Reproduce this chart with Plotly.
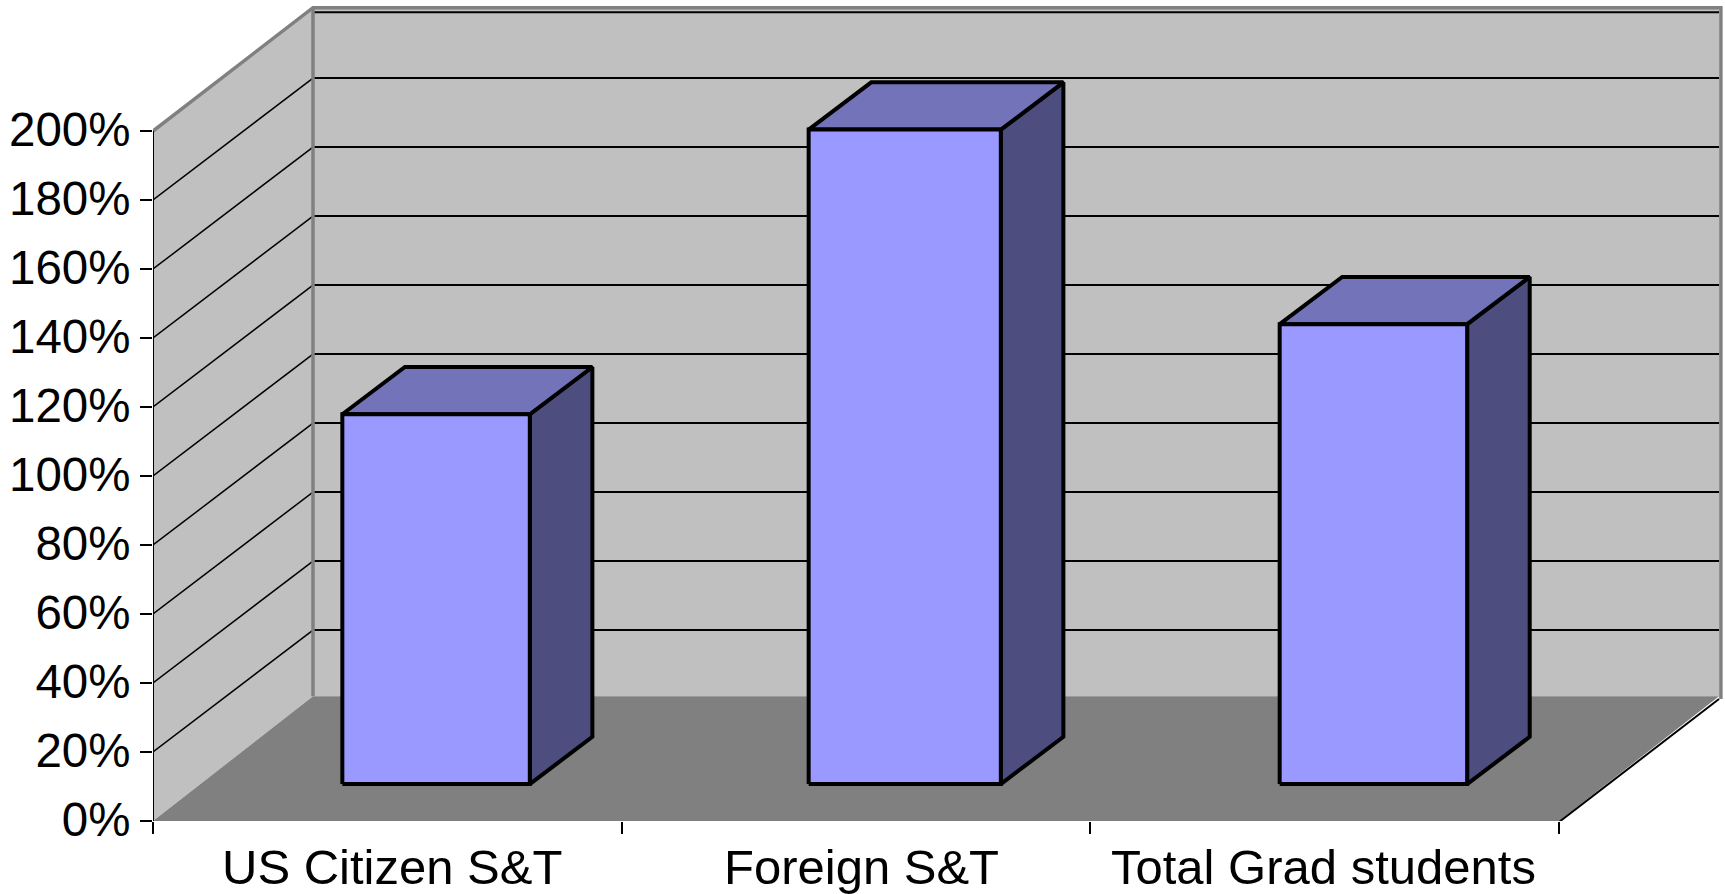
import plotly.graph_objects as go

# Chart data
categories = ["US Citizen S&T", "Foreign S&T", "Total Grad students"]
values = [107.2, 189.7, 133.3]
y_ticks = [0, 20, 40, 60, 80, 100, 120, 140, 160, 180, 200]
y_tick_labels = ["0%", "20%", "40%", "60%", "80%", "100%", "120%", "140%", "160%", "180%", "200%"]

# Oblique projection, in axis units
WALL_DX, WALL_DY = 0.3414, 35.35
FLOOR_DY = 36.15
BAR_SHIFT_DX, BAR_SHIFT_DY = 0.104, 10.7
BAR_DX, BAR_DY = 0.1335, 13.7
BAR_WIDTHS = [0.4, 0.41, 0.4]
SLOTS = len(categories)
Y_MAX = 200

WALL = "#C0C0C0"
FLOOR = "#808080"
EDGE = "#808080"
FRONT = "#9999FF"
TOP = "#7373BA"
SIDE = "#4D4D7F"
BLACK = "#000000"

fig = go.Figure()


def poly(xs, ys, fill, line_color=None, line_width=0):
    fig.add_trace(go.Scatter(
        x=xs + xs[:1], y=ys + ys[:1], mode="lines", fill="toself", fillcolor=fill,
        line=dict(color=line_color or fill, width=line_width, shape="linear"),
        hoverinfo="skip", showlegend=False, cliponaxis=False,
    ))


def seg(xs, ys, color=BLACK, width=2.0):
    fig.add_trace(go.Scatter(
        x=xs, y=ys, mode="lines", line=dict(color=color, width=width),
        hoverinfo="skip", showlegend=False, cliponaxis=False,
    ))


# Walls and floor
poly([WALL_DX, SLOTS + WALL_DX, SLOTS + WALL_DX, WALL_DX],
     [FLOOR_DY, FLOOR_DY, Y_MAX + WALL_DY, Y_MAX + WALL_DY], WALL)
poly([0, WALL_DX, WALL_DX, 0], [0, FLOOR_DY, Y_MAX + WALL_DY, Y_MAX], WALL)
poly([0, SLOTS, SLOTS + WALL_DX, WALL_DX], [0, 0, FLOOR_DY, FLOOR_DY], FLOOR)

# Gridlines across the left and back walls
for v in y_ticks[1:-1]:
    seg([0, WALL_DX], [v, v + WALL_DY], width=1.5)
    seg([WALL_DX, SLOTS + WALL_DX], [v + WALL_DY, v + WALL_DY], width=2.0)
seg([WALL_DX, SLOTS + WALL_DX], [Y_MAX + WALL_DY - 0.9, Y_MAX + WALL_DY - 0.9], width=2.0)

# Wall outline
seg([0, WALL_DX, SLOTS + WALL_DX + 0.004, SLOTS + WALL_DX + 0.004],
    [Y_MAX, Y_MAX + WALL_DY + 0.4, Y_MAX + WALL_DY + 0.4, WALL_DY], color=EDGE, width=3.5)
seg([WALL_DX, WALL_DX], [FLOOR_DY, Y_MAX + WALL_DY], color=EDGE, width=3.5)

# Axis lines
seg([0, 0], [0, Y_MAX], width=2.0)
seg([0, SLOTS], [-0.3, -0.3], width=2.0)
seg([SLOTS, SLOTS + WALL_DX], [-0.3, WALL_DY], width=2.0)

# Bars: side and top faces first, front face last
for i, value in enumerate(values):
    x0 = i + 0.5 + BAR_SHIFT_DX - BAR_WIDTHS[i] / 2
    x1 = x0 + BAR_WIDTHS[i]
    base = BAR_SHIFT_DY
    top = base + value
    outline = dict(line_color=BLACK, line_width=4)
    poly([x1, x1 + BAR_DX, x1 + BAR_DX, x1], [base, base + BAR_DY, top + BAR_DY, top], SIDE, **outline)
    poly([x0, x1, x1 + BAR_DX, x0 + BAR_DX], [top, top, top + BAR_DY, top + BAR_DY], TOP, **outline)
    poly([x0, x1, x1, x0], [base, base, top, top], FRONT, **outline)

# Category labels under their slots
label_nudges = [5, 5, -1]
annotations = [
    dict(x=i + 0.5, y=0, xref="x", yref="paper", text=name, showarrow=False,
         xanchor="center", yanchor="top", yshift=-17, xshift=label_nudges[i],
         font=dict(family="Liberation Sans", size=49, color=BLACK))
    for i, name in enumerate(categories)
]

fig.update_layout(
    width=1725, height=894, autosize=False,
    margin=dict(l=153, r=0, t=0, b=73, pad=0),
    paper_bgcolor="#FFFFFF", plot_bgcolor="#FFFFFF",
    showlegend=False, annotations=annotations,
    xaxis=dict(range=[0, 3.3542], tickmode="array", tickvals=[0, 1, 2, 3], ticktext=["", "", "", ""],
               ticks="outside", ticklen=12, tickwidth=2, tickcolor=BLACK,
               showgrid=False, zeroline=False, showline=False, fixedrange=True),
    yaxis=dict(range=[0, 237.97], tickmode="array", tickvals=y_ticks, ticktext=y_tick_labels,
               ticks="outside", ticklen=12, tickwidth=2, tickcolor=BLACK,
               tickfont=dict(family="Liberation Sans", size=47.5, color=BLACK),
               ticklabelstandoff=0, ticklabelshift=-2,
               showgrid=False, zeroline=False, showline=False, fixedrange=True),
)

fig.write_html("out.html")
